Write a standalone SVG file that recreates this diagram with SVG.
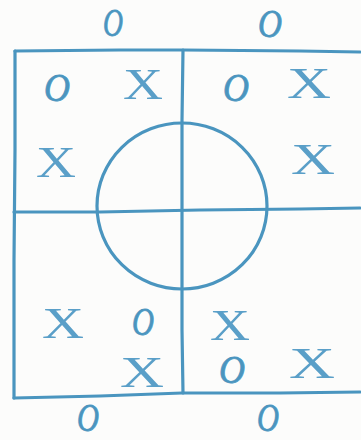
<svg xmlns="http://www.w3.org/2000/svg" width="361" height="440" viewBox="0 0 361 440">
<style>
.ln{fill:none;stroke:#4a95bf;stroke-width:3.2;stroke-linecap:round;stroke-linejoin:round}
.x{font-family:"Liberation Serif",serif;font-size:44px;fill:#5a9fc8;text-anchor:middle}
.o{font-family:"Liberation Serif",serif;font-style:italic;font-size:40px;fill:#4a95bf;stroke:#4a95bf;stroke-width:0.8;text-anchor:middle}
</style>
<rect width="361" height="440" fill="#fcfcfb"/>
<g id="grid">
<path class="ln" d="M15,51 L120,50 L183,50 L300,51 L360,52"/>
<path class="ln" d="M15,51 L15,150 L14,260 L14,398"/>
<path class="ln" d="M14,398 L100,396 L182,393 L280,393 L360,392"/>
<path class="ln" d="M183,50 L182,120 L182,250 L182,330 L183,393"/>
<path class="ln" d="M14,212 L100,212 L200,210 L300,209 L360,208"/>
</g>
<g id="circle">
<ellipse class="ln" cx="182" cy="206" rx="85" ry="83"/>
</g>
<g id="marks">
<text class="o" x="113" y="36" font-size="36" textLength="20" lengthAdjust="spacingAndGlyphs">O</text>
<text class="o" x="270" y="37" font-style="normal" font-size="26" textLength="24" lengthAdjust="spacingAndGlyphs">O</text>
<text class="o" x="57" y="101" textLength="26" lengthAdjust="spacingAndGlyphs">O</text>
<text class="x" x="143" y="99" textLength="40" lengthAdjust="spacingAndGlyphs">X</text>
<text class="o" x="236" y="101" textLength="26" lengthAdjust="spacingAndGlyphs">O</text>
<text class="x" x="309" y="98" textLength="44" lengthAdjust="spacingAndGlyphs">X</text>
<text class="x" x="56" y="177" textLength="40" lengthAdjust="spacingAndGlyphs">X</text>
<text class="x" x="313" y="174" textLength="44" lengthAdjust="spacingAndGlyphs">X</text>
<text class="x" x="63" y="338" textLength="42" lengthAdjust="spacingAndGlyphs">X</text>
<text class="o" x="143" y="335" font-size="34" textLength="22" lengthAdjust="spacingAndGlyphs">O</text>
<text class="x" x="142" y="387" textLength="44" lengthAdjust="spacingAndGlyphs">X</text>
<text class="x" x="230" y="340" textLength="40" lengthAdjust="spacingAndGlyphs">X</text>
<text class="o" x="232" y="383" font-size="34" textLength="26" lengthAdjust="spacingAndGlyphs">O</text>
<text class="x" x="312" y="378" textLength="46" lengthAdjust="spacingAndGlyphs">X</text>
<text class="o" x="88" y="431" font-size="30" textLength="22" lengthAdjust="spacingAndGlyphs">O</text>
<text class="o" x="268" y="431" font-size="30" textLength="22" lengthAdjust="spacingAndGlyphs">O</text>
</g>
</svg>
